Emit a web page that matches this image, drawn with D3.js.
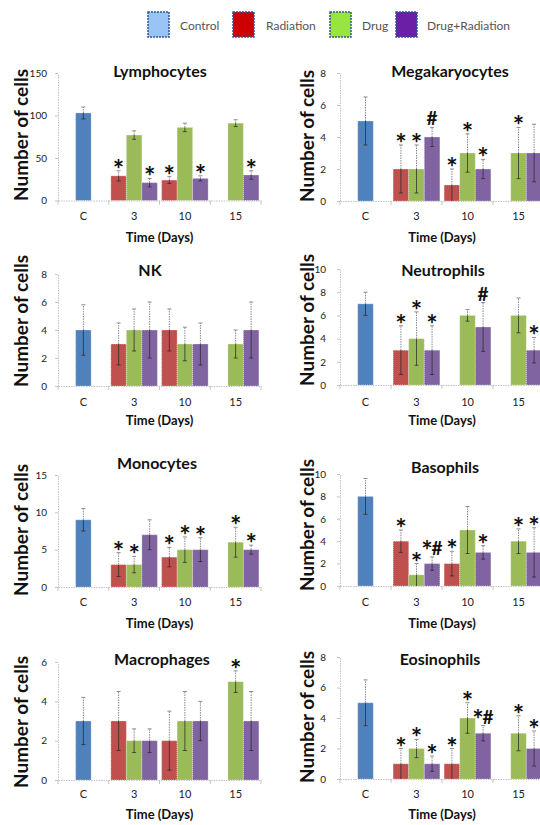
<!DOCTYPE html>
<html><head><meta charset="utf-8">
<script src="https://cdn.jsdelivr.net/npm/d3@7"></script>
<style>body{margin:0;background:#fff} svg{display:block}</style>
</head><body>
<svg id="c" width="540" height="825"></svg>
<script>
// ---------------- DATA ----------------
const categories = ["C", "3", "10", "15"];
const seriesNames = ["Control", "Radiation", "Drug", "Drug+Radiation"];
const panelNames = ["Lymphocytes", "Megakaryocytes", "NK", "Neutrophils", "Monocytes", "Basophils", "Macrophages", "Eosinophils"];
const yMaxes = [150, 8, 8, 10, 15, 10, 6, 8];
const yTickSteps = [50, 2, 2, 2, 5, 2, 2, 2];
const xTitle = "Time (Days)";
const yTitle = "Number of cells";

// Control: only day "C"
const controlValues = [103, 5, 4, 7, 9, 8, 3, 5];
const controlErrors = [7, 1.5, 1.8, 1, 1.5, 1.6, 1.2, 1.5];

// per panel, for days [3, 10, 15]
const radiationValues = [[29, 24, null], [2, 1, null], [3, 4, null], [3, null, null], [3, 4, null], [4, 2, null], [3, 2, null], [1, 1, null]];
const radiationErrors = [[6, 4, null], [1.5, 1, null], [1.5, 1.5, null], [2.1, null, null], [1.6, 1.3, null], [1, 1.1, null], [1.5, 1.5, null], [1, 1, null]];
const radiationMarks  = [["*", "*", ""], ["*", "*", ""], ["", "", ""], ["*", "", ""], ["*", "*", ""], ["*", "*", ""], ["", "", ""], ["*", "*", ""]];

const drugValues = [[77, 86, 91], [2, 3, 3], [4, 3, 3], [4, 6, 6], [3, 5, 6], [1, 5, 4], [2, 3, 5], [2, 4, 3]];
const drugErrors = [[5, 5, 4], [1.5, 1.2, 1.6], [1.5, 1.2, 1], [2.3, 0.5, 1.5], [1.1, 1.7, 2], [1, 2.1, 1.1], [0.6, 1.5, 0.55], [0.6, 1, 1.15]];
const drugMarks  = [["", "", ""], ["*", "*", "*"], ["", "", ""], ["*", "", ""], ["*", "*", "*"], ["*", "", "*"], ["", "", "*"], ["*", "*", "*"]];

const drugRadValues = [[21, 26, 30], [4, 2, 3], [4, 3, 4], [3, 5, 3], [7, 5, 5], [2, 3, 3], [2, 3, 3], [1, 3, 2]];
const drugRadErrors = [[5, 3, 5], [0.6, 0.6, 1.8], [2, 1.5, 2], [2.1, 2.1, 1.1], [2, 1.6, 0.6], [0.6, 0.6, 2.2], [0.6, 1, 1.5], [0.5, 0.5, 1.15]];
const drugRadMarks  = [["*", "*", "*"], ["#", "*", ""], ["", "", ""], ["*", "#", "*"], ["", "*", "*"], ["*#", "*", "*"], ["", "", ""], ["*", "*#", "*"]];

// ---------------- LAYOUT / STYLE ----------------
const font = "Lato, 'Open Sans', sans-serif";
const barColors = ["#4f81bd", "#c0504d", "#9bbb59", "#8064a2"];
const legendColors = ["#99c5f6", "#cc0000", "#99e540", "#6a1fa6"];
const legendSquareX = [148, 233, 330, 396];
const legendTextX = [180, 266, 362, 427];

const colX = [[58, 261], [340, 544]];
const layout = [
  {col: 0, y0: 200.5, yTop: 73, labY: 216, tY: 237, title: [160, 71], ay: 135},
  {col: 1, y0: 201, yTop: 73, labY: 216, tY: 237, title: [450, 71], ay: 136},
  {col: 0, y0: 386, yTop: 274, labY: 402, tY: 420, title: [150, 270], ay: 321},
  {col: 1, y0: 385, yTop: 269, labY: 402, tY: 420, title: [443, 270], ay: 320},
  {col: 0, y0: 587, yTop: 475, labY: 602, tY: 623, title: [157, 463], ay: 530},
  {col: 1, y0: 586, yTop: 474, labY: 602, tY: 623, title: [445, 467], ay: 525},
  {col: 0, y0: 780, yTop: 662, labY: 794, tY: 814, title: [162, 659], ay: 722},
  {col: 1, y0: 779, yTop: 657, labY: 794, tY: 814, title: [440, 659], ay: 717}
];
const axisTitleX = [21, 307];
const tickLabelRight = [47, 326];

const svg = d3.select("#c");

// Legend
seriesNames.forEach((s, k) => {
  svg.append("rect").attr("x", legendSquareX[k]).attr("y", 12).attr("width", 21).attr("height", 25)
    .attr("fill", legendColors[k]).attr("stroke", "#2f5597").attr("stroke-width", 1.5).attr("stroke-dasharray", "2,1");
  svg.append("text").attr("x", legendTextX[k]).attr("y", 26).attr("dy", "0.35em")
    .attr("font-family", font).attr("font-size", 12).attr("fill", "#555").text(s);
});

function drawMark(g, cx, top, label) {
  const chars = label.split("");
  const hasHash = label.indexOf("#") >= 0;
  const hashBase = top - 2;
  const n = chars.length;
  chars.forEach((ch, k) => {
    const off = n === 1 ? 0 : (k === 0 ? -5 : 5);
    const isStar = ch === "*";
    const base = isStar ? (hasHash ? hashBase + 5 : top + 8) : hashBase;
    g.append("text").attr("x", cx + off).attr("y", base)
      .attr("text-anchor", "middle").attr("font-family", font).attr("font-weight", "bold")
      .attr("font-size", isStar ? 27 : 19).attr("fill", "#111").text(ch);
  });
}

panelNames.forEach((name, i) => {
  const L = layout[i];
  const [x0, x1] = colX[L.col];
  const g = svg.append("g");
  const x = d3.scaleBand().domain(categories).range([x0, x1]).paddingInner(0).paddingOuter(0);
  const xs = d3.scaleBand().domain([0, 1, 2]).range([0, x.bandwidth()]).paddingInner(0).paddingOuter(0.136);
  const y = d3.scaleLinear().domain([0, yMaxes[i]]).range([L.y0, L.yTop]);

  const recs = [];
  recs.push({cat: "C", slot: 1, s: 0, v: controlValues[i], e: controlErrors[i], m: ""});
  [radiationValues, drugValues, drugRadValues].forEach((vals, si) => {
    const errs = [radiationErrors, drugErrors, drugRadErrors][si][i];
    const marks = [radiationMarks, drugMarks, drugRadMarks][si][i];
    vals[i].forEach((v, di) => {
      if (v === null) return;
      recs.push({cat: categories[di + 1], slot: si, s: si + 1, v: v, e: errs[di], m: marks[di]});
    });
  });

  // Y axis
  const ticks = d3.range(0, yMaxes[i] + 1e-9, yTickSteps[i]);
  const ga = g.append("g").attr("transform", `translate(${x0},0)`)
    .call(d3.axisLeft(y).tickValues(ticks).tickSize(3).tickSizeOuter(0).tickPadding(x0 - tickLabelRight[L.col] - 3).tickFormat(d3.format("d")));
  ga.select(".domain").attr("stroke", "#c4c4c4").attr("stroke-dasharray", "1.5,1");
  ga.selectAll(".tick line").attr("stroke", "#c4c4c4");
  ga.selectAll(".tick text").attr("font-family", font).attr("font-size", 10).attr("fill", "#222");

  // X axis
  const gx = g.append("g").attr("transform", `translate(0,${L.y0})`)
    .call(d3.axisBottom(x).tickSize(0).tickSizeOuter(0).tickPadding(L.labY - L.y0 - 4));
  gx.select(".domain").attr("stroke", "#c4c4c4").attr("stroke-dasharray", "1.5,1");
  gx.selectAll(".tick text").attr("font-family", font).attr("font-size", 11).attr("fill", "#222");
  const bounds = categories.map(c => x(c)).concat([x.range()[1]]);
  g.selectAll("line.sep").data(bounds).join("line")
    .attr("x1", d => d).attr("x2", d => d).attr("y1", L.y0).attr("y2", L.y0 + 4)
    .attr("stroke", "#c4c4c4");

  // Bars
  g.selectAll("rect.bar").data(recs).join("rect")
    .attr("x", d => x(d.cat) + xs(d.slot)).attr("width", xs.bandwidth())
    .attr("y", d => y(d.v)).attr("height", d => y(0) - y(d.v))
    .attr("fill", d => barColors[d.s])
    .attr("stroke", "rgba(255,255,255,0.7)").attr("stroke-width", 0.7).attr("stroke-dasharray", "1,1");

  // Error bars and marks
  recs.forEach(d => {
    const cx = x(d.cat) + xs(d.slot) + xs.bandwidth() / 2;
    const top = y(d.v + d.e), bot = y(Math.max(0, d.v - d.e)), vy = y(d.v);
    g.append("line").attr("x1", cx).attr("x2", cx).attr("y1", bot).attr("y2", vy)
      .attr("stroke", "#2a2a2a").attr("stroke-opacity", 0.75).attr("stroke-width", 1);
    g.append("line").attr("x1", cx).attr("x2", cx).attr("y1", vy).attr("y2", top)
      .attr("stroke", "#8a8a8a").attr("stroke-width", 1).attr("stroke-dasharray", "1.5,1");
    g.append("line").attr("x1", cx - 2).attr("x2", cx + 2).attr("y1", top).attr("y2", top)
      .attr("stroke", "#8a8a8a").attr("stroke-width", 1);
    if (d.v - d.e > 0)
      g.append("line").attr("x1", cx - 2).attr("x2", cx + 2).attr("y1", bot).attr("y2", bot)
        .attr("stroke", "#2a2a2a").attr("stroke-opacity", 0.75).attr("stroke-width", 1);
    if (d.m) drawMark(g, cx, top, d.m);
  });

  // Titles
  g.append("text").attr("x", L.title[0]).attr("y", L.title[1]).attr("dy", "0.35em")
    .attr("text-anchor", "middle").attr("font-family", font).attr("font-weight", "bold")
    .attr("font-size", 16).attr("fill", "#111").text(name);
  g.append("text").attr("x", (x0 + x1) / 2).attr("y", L.tY).attr("dy", "0.35em")
    .attr("text-anchor", "middle").attr("font-family", font).attr("font-weight", "bold")
    .attr("font-size", 13).attr("fill", "#111").text(xTitle);
  g.append("text").attr("transform", `translate(${axisTitleX[L.col]},${L.ay}) rotate(-90)`).attr("dy", "0.35em")
    .attr("text-anchor", "middle").attr("font-family", font).attr("font-weight", "bold")
    .attr("font-size", 19).attr("fill", "#111").text(yTitle);
});
</script>
</body></html>
